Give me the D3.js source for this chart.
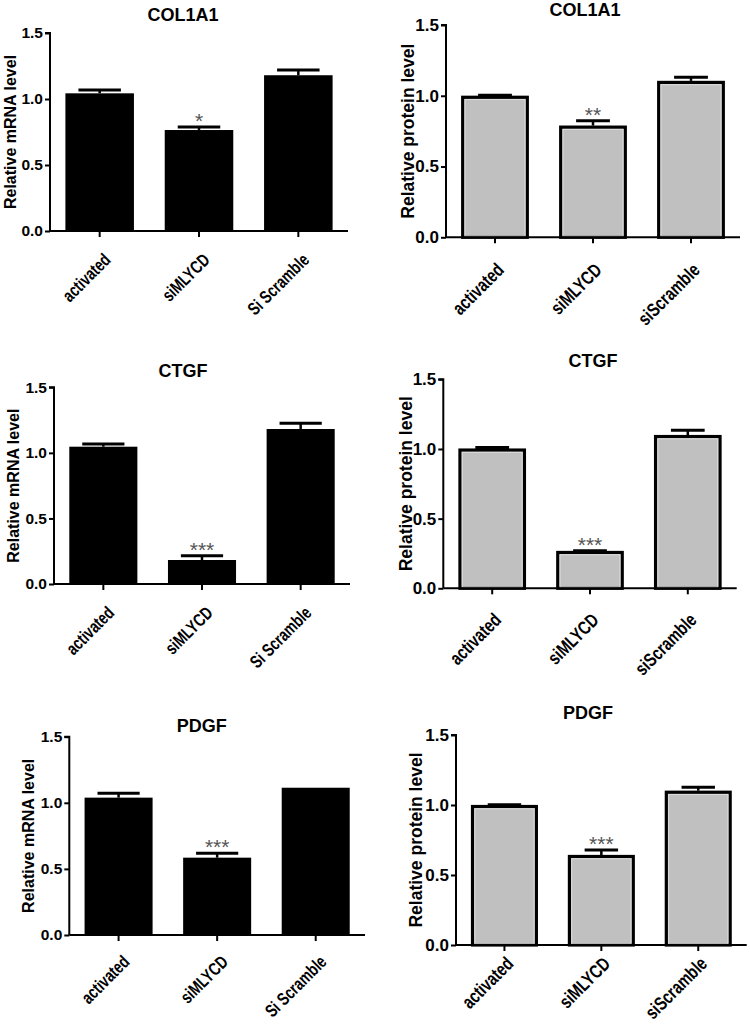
<!DOCTYPE html>
<html><head><meta charset="utf-8">
<script src="https://cdn.jsdelivr.net/npm/d3@7"></script>
<style>body{margin:0;background:#fff}svg{display:block}</style>
</head><body>
<svg id="c" width="750" height="1024"></svg>
<script>
// ---- data ----
const mrnaCategories = ["activated", "siMLYCD", "Si Scramble"];
const proteinCategories = ["activated", "siMLYCD", "siScramble"];
const yTickValues = [0, 0.5, 1.0, 1.5];
const yTickLabels = ["0.0", "0.5", "1.0", "1.5"];

const col1a1Mrna = [1.043, 0.765, 1.18];
const col1a1MrnaErr = [0.025, 0.023, 0.04];
const col1a1MrnaSig = ["", "*", ""];
const col1a1Protein = [1.0, 0.789, 1.105];
const col1a1ProteinErr = [0.004, 0.035, 0.025];
const col1a1ProteinSig = ["", "**", ""];

const ctgfMrna = [1.047, 0.183, 1.182];
const ctgfMrnaErr = [0.021, 0.033, 0.044];
const ctgfMrnaSig = ["", "***", ""];
const ctgfProtein = [1.003, 0.268, 1.1];
const ctgfProteinErr = [0.008, 0.002, 0.034];
const ctgfProteinSig = ["", "***", ""];

const pdgfMrna = [1.039, 0.585, 1.114];
const pdgfMrnaErr = [0.033, 0.033, 0.0];
const pdgfMrnaSig = ["", "***", ""];
const pdgfProtein = [1.0, 0.643, 1.102];
const pdgfProteinErr = [0.002, 0.036, 0.024];
const pdgfProteinSig = ["", "***", ""];

// ---- layout ----
const panels = [
  {title:"COL1A1", cats:mrnaCategories, vals:col1a1Mrna, errs:col1a1MrnaErr, sig:col1a1MrnaSig, ylabel:"Relative mRNA level", kind:"mrna",
   x0:50, x1:348, yTop:33, yBot:231, tx:183, ty:15, lx:10, ldy:30},
  {title:"COL1A1", cats:proteinCategories, vals:col1a1Protein, errs:col1a1ProteinErr, sig:col1a1ProteinSig, ylabel:"Relative protein level", kind:"protein",
   x0:446, x1:740, yTop:25, yBot:237.3, tx:585, ty:10, lx:408, ldy:34},
  {title:"CTGF", cats:mrnaCategories, vals:ctgfMrna, errs:ctgfMrnaErr, sig:ctgfMrnaSig, ylabel:"Relative mRNA level", kind:"mrna",
   x0:54, x1:350, yTop:387.3, yBot:584, tx:183, ty:371, lx:13, ldy:30},
  {title:"CTGF", cats:proteinCategories, vals:ctgfProtein, errs:ctgfProteinErr, sig:ctgfProteinSig, ylabel:"Relative protein level", kind:"protein",
   x0:443.3, x1:736.7, yTop:379.3, yBot:588.3, tx:593, ty:361, lx:406, ldy:33},
  {title:"PDGF", cats:mrnaCategories, vals:pdgfMrna, errs:pdgfMrnaErr, sig:pdgfMrnaSig, ylabel:"Relative mRNA level", kind:"mrna",
   x0:69.3, x1:365, yTop:736.7, yBot:935, tx:201.7, ty:726, lx:28.5, ldy:28},
  {title:"PDGF", cats:proteinCategories, vals:pdgfProtein, errs:pdgfProteinErr, sig:pdgfProteinSig, ylabel:"Relative protein level", kind:"protein",
   x0:456, x1:746.7, yTop:735, yBot:945, tx:588, ty:713, lx:416, ldy:20}
];

const svg = d3.select("#c");
const FONT = "'Liberation Sans', Arial, sans-serif";

panels.forEach(p => {
  const g = svg.append("g");
  const x = d3.scaleBand().domain(p.cats).range([p.x0, p.x1]).paddingInner(0.31).paddingOuter(0.155);
  const y = d3.scaleLinear().domain([0, 1.5]).range([p.yBot, p.yTop]);
  const isM = p.kind === "mrna";
  const rows = p.cats.map((c, i) => ({c, v: p.vals[i], e: p.errs[i], s: p.sig[i]}));

  // bars
  g.selectAll("rect.bar").data(rows).join("rect")
    .attr("x", d => x(d.c) + (isM ? 0 : 1.5))
    .attr("width", x.bandwidth() - (isM ? 0 : 3))
    .attr("y", d => y(d.v) + (isM ? 0 : 1.5))
    .attr("height", d => y(0) - y(d.v) - (isM ? 0 : 1.5))
    .attr("fill", isM ? "#000" : "#c0c0c0")
    .attr("stroke", isM ? "none" : "#000")
    .attr("stroke-width", 3.2);
  if (!isM) {
    g.selectAll("rect.inner").data(rows).join("rect")
      .attr("x", d => x(d.c) + 3.8)
      .attr("width", x.bandwidth() - 7.6)
      .attr("y", d => y(d.v) + 3.8)
      .attr("height", d => Math.max(0, y(0) - y(d.v) - 5))
      .attr("fill", "none").attr("stroke", "#dcdcdc").attr("stroke-width", 1);
  }

  // error bars
  const capW = x.bandwidth() * (isM ? 0.62 : 0.5);
  const eb = g.selectAll("g.err").data(rows.filter(d => d.e > 0)).join("g");
  eb.append("line")
    .attr("x1", d => x(d.c) + x.bandwidth()/2).attr("x2", d => x(d.c) + x.bandwidth()/2)
    .attr("y1", d => y(d.v)).attr("y2", d => y(d.v + d.e))
    .attr("stroke", "#000").attr("stroke-width", 2.5);
  eb.append("line")
    .attr("x1", d => x(d.c) + x.bandwidth()/2 - capW/2).attr("x2", d => x(d.c) + x.bandwidth()/2 + capW/2)
    .attr("y1", d => y(d.v + d.e)).attr("y2", d => y(d.v + d.e))
    .attr("stroke", "#000").attr("stroke-width", 3);

  // significance
  g.selectAll("text.sig").data(rows.filter(d => d.s)).join("text")
    .attr("x", d => x(d.c) + x.bandwidth()/2)
    .attr("y", d => y(d.v + d.e) + 1)
    .attr("text-anchor", "middle")
    .attr("font-family", FONT).attr("font-size", 21).attr("fill", "#555")
    .text(d => d.s);

  // y axis
  const yAxis = d3.axisLeft(y).tickValues(yTickValues).tickFormat((d, i) => yTickLabels[i]).tickSize(5).tickPadding(2);
  const ya = g.append("g").attr("transform", `translate(${p.x0},0)`).call(yAxis);
  ya.select(".domain").attr("stroke-width", 2).attr("d", `M-5,${p.yTop}H0V${p.yBot}`);
  ya.selectAll(".tick line").attr("stroke-width", 2);
  ya.selectAll(".tick text").attr("font-family", FONT).attr("font-weight", "bold")
    .attr("font-size", isM ? 15.5 : 17).attr("fill", "#000");

  // x axis
  const xAxis = d3.axisBottom(x).tickSize(6).tickSizeOuter(0);
  const xa = g.append("g").attr("transform", `translate(0,${p.yBot})`).call(xAxis);
  xa.select(".domain").attr("stroke-width", 2).attr("d", `M${p.x0},0H${p.x1}`);
  xa.selectAll(".tick line").attr("stroke-width", 2);
  xa.selectAll(".tick text")
    .attr("font-family", FONT).attr("font-weight", "bold").attr("font-size", isM ? 18 : 19).attr("fill", "#000")
    .attr("text-anchor", "end").attr("y", 0).attr("dy", 0)
    .attr("transform", `translate(${isM ? 12 : 10},${p.ldy}) rotate(-45) scale(${isM ? 0.76 : 0.77},1)`);

  // title
  g.append("text").attr("x", p.tx).attr("y", p.ty).attr("dy", "0.35em")
    .attr("text-anchor", "middle").attr("font-family", FONT).attr("font-weight", "bold")
    .attr("font-size", 18).text(p.title);

  // y label
  g.append("text")
    .attr("transform", `translate(${p.lx},${(p.yTop + p.yBot)/2}) rotate(-90)`)
    .attr("dy", "0.35em").attr("text-anchor", "middle")
    .attr("font-family", FONT).attr("font-weight", "bold")
    .attr("font-size", isM ? 16 : 17.5).text(p.ylabel);
});
</script>
</body></html>
